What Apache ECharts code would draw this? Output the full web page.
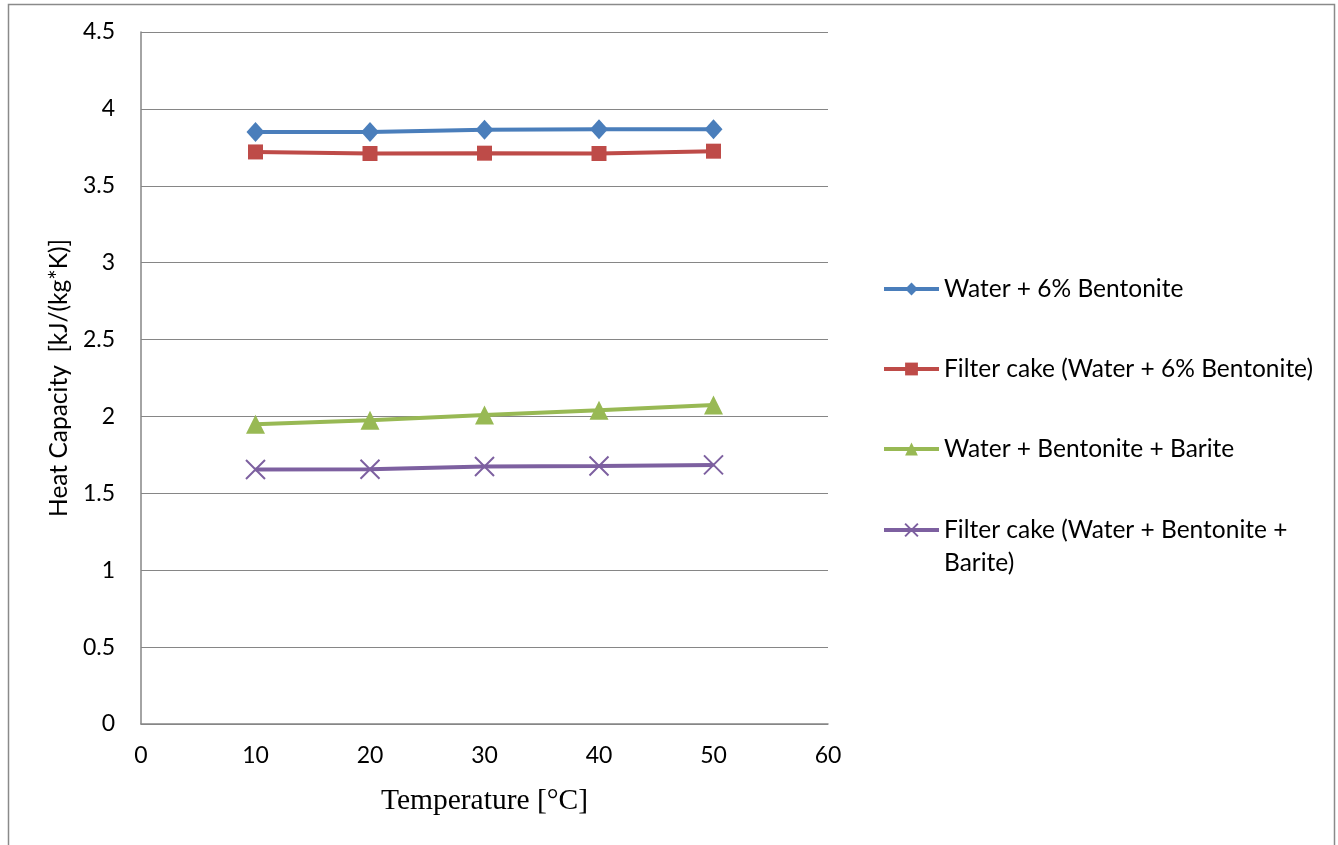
<!DOCTYPE html>
<html>
<head>
<meta charset="utf-8">
<script src="https://cdn.jsdelivr.net/npm/echarts@6/dist/echarts.min.js"></script>
<style>
html,body{margin:0;padding:0;background:#fff;}
#chart{width:1338px;height:845px;}
</style>
</head>
<body>
<div id="chart"></div>
<script>
const temperatures = [10, 20, 30, 40, 50];
const seriesNames = [
  'Water + 6% Bentonite',
  'Filter cake (Water + 6% Bentonite)',
  'Water + Bentonite + Barite',
  'Filter cake (Water + Bentonite + Barite)'
];
const waterBentonite = [3.85, 3.85, 3.865, 3.868, 3.868];
const filterCakeBentonite = [3.72, 3.71, 3.712, 3.71, 3.725];
const waterBentoniteBarite = [1.95, 1.975, 2.01, 2.04, 2.075];
const filterCakeBarite = [1.655, 1.657, 1.675, 1.678, 1.685];
const xTicks = { min: 0, max: 60, interval: 10 };
const yTicks = { min: 0, max: 4.5, interval: 0.5 };

const colors = ['#4A7EBB', '#BE4B48', '#98B954', '#7D60A0'];
const sansFont = 'Lato';

function pairs(vals) { return temperatures.map((t, i) => [t, vals[i]]); }

const legendCommon = {
  orient: 'vertical',
  left: 882,
  padding: 0,
  itemGap: 47,
  itemWidth: 55,
  itemHeight: 16,
  itemTextGap: 4,
  lineStyle: { width: 4 },
  textStyle: { fontFamily: sansFont, fontSize: 24.5, color: '#000', lineHeight: 33 }
};

const chart = echarts.init(document.getElementById('chart'), null, { renderer: 'canvas' });
const option = {
  backgroundColor: '#ffffff',
  animation: false,
  graphic: [{
    type: 'rect',
    shape: { x: 8.5, y: 4.5, width: 1326, height: 900 },
    style: { fill: 'none', stroke: '#8a8a8a', lineWidth: 1.5 },
    silent: true
  }],
  grid: { left: 141, right: 510, top: 32, bottom: 121, containLabel: false },
  xAxis: {
    type: 'value',
    min: xTicks.min, max: xTicks.max, interval: xTicks.interval,
    name: 'Temperature [°C]',
    nameLocation: 'middle',
    nameGap: 62,
    nameTextStyle: { fontFamily: 'Liberation Serif', fontSize: 29.5, color: '#000' },
    axisLine: { show: true, lineStyle: { color: '#868686', width: 1.5 } },
    axisTick: { show: false },
    splitLine: { show: false },
    axisLabel: { color: '#000', fontFamily: sansFont, fontSize: 23, margin: 20 }
  },
  yAxis: {
    type: 'value',
    min: yTicks.min, max: yTicks.max, interval: yTicks.interval,
    name: 'Heat Capacity  [kJ/(kg*K)]',
    nameLocation: 'middle',
    nameGap: 68,
    nameRotate: 90,
    nameTextStyle: { fontFamily: sansFont, fontSize: 24.5, color: '#000' },
    axisLine: { show: true, lineStyle: { color: '#868686', width: 1.5 } },
    axisTick: { show: false },
    splitLine: { show: true, lineStyle: { color: '#868686', width: 1.2 } },
    axisLabel: { color: '#000', fontFamily: sansFont, fontSize: 23, margin: 26 }
  },
  legend: [
    Object.assign({}, legendCommon, {
      top: 272.5,
      data: [seriesNames[0], seriesNames[1], seriesNames[2]]
    }),
    Object.assign({}, legendCommon, {
      top: 480.5,
      data: [seriesNames[3]],
      formatter: function () { return '\nFilter cake (Water + Bentonite +\nBarite)'; }
    })
  ],
  series: [
    {
      name: seriesNames[0], type: 'line', data: pairs(waterBentonite),
      symbol: 'diamond', symbolSize: [18, 20],
      lineStyle: { color: colors[0], width: 4 },
      itemStyle: { color: colors[0] }
    },
    {
      name: seriesNames[1], type: 'line', data: pairs(filterCakeBentonite),
      symbol: 'rect', symbolSize: 15,
      lineStyle: { color: colors[1], width: 4 },
      itemStyle: { color: colors[1] }
    },
    {
      name: seriesNames[2], type: 'line', data: pairs(waterBentoniteBarite),
      symbol: 'triangle', symbolSize: [19, 19],
      lineStyle: { color: colors[2], width: 4 },
      itemStyle: { color: colors[2] }
    },
    {
      name: seriesNames[3], type: 'line', data: pairs(filterCakeBarite),
      symbol: 'path://M0,0L10,10M10,0L0,10', symbolSize: 19,
      lineStyle: { color: colors[3], width: 4 },
      itemStyle: { color: colors[3], borderColor: colors[3], borderWidth: 2 }
    }
  ]
};
chart.setOption(option);
</script>
</body>
</html>
